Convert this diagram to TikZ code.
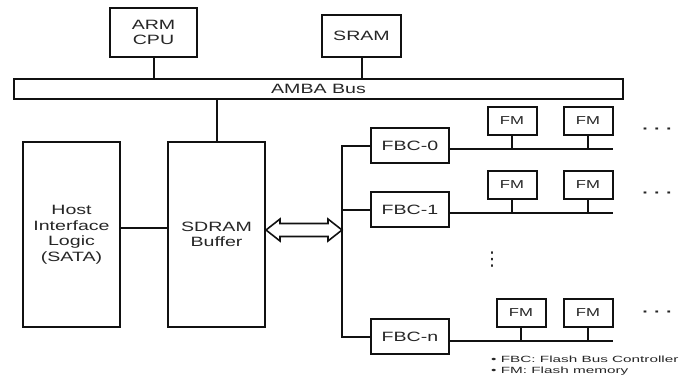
\documentclass[tikz,border=0pt]{standalone}
\usepackage{fontspec}
\usetikzlibrary{calc}
\newfontfamily\boxfont{Liberation Sans}[FakeStretch=1.45]
\newfontfamily\notefont{Liberation Sans}[FakeStretch=1.7]
\newfontfamily\symfont{DejaVu Sans}
\definecolor{lineink}{HTML}{111111}
\definecolor{textink}{HTML}{262626}
\newcommand{\BX}{\boxfont\fontsize{13.5}{15.5}\selectfont}
\newcommand{\FX}{\boxfont\fontsize{11.5}{13}\selectfont}

\begin{document}
\begin{tikzpicture}[x=1pt,y=-1pt,
  blk/.style={draw=lineink,line width=2pt,fill=white,inner sep=0pt,align=center,text=textink,font=\BX},
  fmbox/.style={blk,minimum width=49,minimum height=28,font=\FX},
  wire/.style={draw=lineink,line width=2pt},
  chan/.style={draw=lineink,line width=1.6pt},
  more/.style={text=textink,inner sep=0pt,font=\BX}]

\useasboundingbox (0,0) rectangle (690,383);

% ---------------- controller side -------------------------------------------
\node[blk,minimum width=87,minimum height=49] (arm) at (153.5,32.5) {ARM\\CPU};
\node[blk,minimum width=79,minimum height=42] (sram) at (361.5,36) {SRAM};
\node[blk,minimum width=609,minimum height=20] (amba) at (318.5,89) {AMBA Bus};
\node[blk,minimum width=97,minimum height=185] (host) at (71.5,234.5) {Host\\Interface\\Logic\\(SATA)};
\node[blk,minimum width=97,minimum height=185] (sdram) at (216.5,234.5) {SDRAM\\Buffer};

\draw[wire] (arm.south) -- (arm.south |- amba.north);
\draw[wire] (sram.south) -- (sram.south |- amba.north);
\draw[wire] (amba.south -| sdram.north) -- (sdram.north);
\draw[wire] ([yshift=6.5pt]host.east) -- ([yshift=6.5pt]host.east -| sdram.west);

% ---------------- flash channels --------------------------------------------
\coordinate (spine) at (342,230);
\foreach \c/\y in {0/145.5,1/209.5,n/336.5}
  {\node[blk,minimum width=78,minimum height=35] (fbc\c) at (410,\y) {FBC-\c};}

\foreach \c/\y in {0/121,1/185}
  {\node[fmbox] (fm\c a) at (512,\y) {FM};
   \node[fmbox] (fm\c b) at (588,\y) {FM};}
\node[fmbox] (fmna) at (521,313) {FM};
\node[fmbox] (fmnb) at (588,313) {FM};

\coordinate (ch0) at (613,149);
\coordinate (ch1) at (613,213);
\coordinate (chn) at (613,341);

\draw[wire] (fbc0.west) -- (fbc0.west -| spine) -- (fbcn.west -| spine) -- (fbcn.west);
\draw[wire] (fbc1.west) -- (fbc1.west -| spine);
\foreach \c in {0,1,n}
  {\draw[chan] (fbc\c.east |- ch\c) -- (ch\c);
   \foreach \k in {a,b}
     {\draw[wire] (fm\c\k.south) -- (fm\c\k.south |- ch\c);}}

% wide two-way arrow between buffer and the channels
\draw[line width=1.6pt,draw=lineink,fill=white,line join=miter]
  (sdram.east |- spine) -- ++(14,-11) -- ++(0,4.5) -- ($(spine)+(-14,-6.5)$)
  -- ++(0,-4.5) -- (spine) -- ++(-14,11) -- ++(0,-4.5)
  -- ($(sdram.east |- spine)+(14,6.5)$) -- ++(0,4.5) -- cycle;

% ---------------- dots and notes --------------------------------------------
\foreach \c/\y in {0/131,1/195,n/314}
  {\node[more] (more\c) at (657.5,\y) {\textbf{· · ·}};}
\node[more,font=\symfont\fontsize{19}{19}\selectfont] (vdots) at (492,260) {⋮};
\node[anchor=north west,align=left,inner sep=0pt,text=textink,
  font=\notefont\fontsize{9}{10.5}\selectfont] (note) at (491,356)
  {• FBC: Flash Bus Controller\\• FM: Flash memory};

\end{tikzpicture}
\end{document}
